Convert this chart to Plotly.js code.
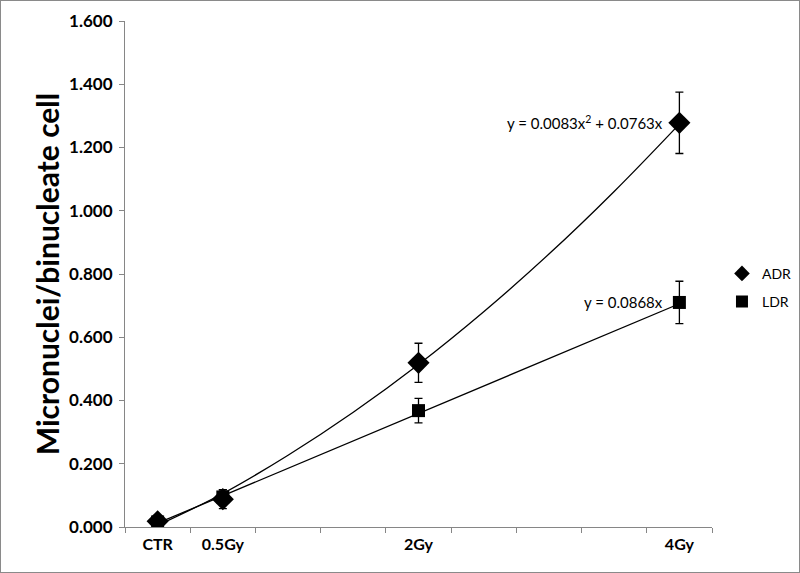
<!DOCTYPE html>
<html>
<head>
<meta charset="utf-8">
<script src="https://cdn.plot.ly/plotly-3.0.1.min.js"></script>
<style>
  html, body { margin: 0; padding: 0; background: #fff; }
  #chart { width: 798px; height: 571px; border: 1px solid #8a8a8a; }
</style>
</head>
<body>
<div id="chart"></div>
<script>
// ---- data ----
const doses = [0, 0.5, 2, 4];
const doseLabels = ["CTR", "0.5Gy", "2Gy", "4Gy"];
const adrValues = [0.018, 0.088, 0.519, 1.278];
const adrErrors = [0.006, 0.030, 0.062, 0.097];
const ldrValues = [0.016, 0.095, 0.368, 0.710];
const ldrErrors = [0.005, 0.022, 0.039, 0.067];
// trendlines
const adrTrendDose = [0, 0.5, 1, 1.5, 2, 2.5, 3, 3.5, 4];
const adrTrendVal = [0.005, 0.106, 0.227, 0.363, 0.514, 0.681, 0.863, 1.061, 1.274];
const ldrTrendDose = [0, 4];
const ldrTrendVal = [0.012, 0.706];
const adrEquation = "y = 0.0083x<sup>2</sup> + 0.0763x";
const ldrEquation = "y = 0.0868x";
const categoryEdges = [-0.25, 0.25, 0.75, 1.25, 1.75, 2.25, 2.75, 3.25, 3.75, 4.25];
const yTicks = [0, 0.2, 0.4, 0.6, 0.8, 1.0, 1.2, 1.4, 1.6];

const axisGray = "#868686";
const font = "Lato, 'Open Sans', sans-serif";

const traces = [
  { x: adrTrendDose, y: adrTrendVal, mode: "lines", line: { color: "#000", width: 1.3, shape: "spline" },
    showlegend: false, hoverinfo: "skip" },
  { x: ldrTrendDose, y: ldrTrendVal, mode: "lines", line: { color: "#000", width: 1.3 },
    showlegend: false, hoverinfo: "skip" },
  { x: doses, y: adrValues, name: "ADR", mode: "markers", legendgroup: "a",
    marker: { symbol: "diamond", size: 17, color: "#000" },
    error_y: { type: "data", array: adrErrors, visible: true, color: "#000", thickness: 1.3, width: 4 } },
  { x: doses, y: ldrValues, name: "LDR", mode: "markers", legendgroup: "b",
    marker: { symbol: "square", size: 13, color: "#000" },
    error_y: { type: "data", array: ldrErrors, visible: true, color: "#000", thickness: 1.3, width: 4 } },
  { x: categoryEdges, y: categoryEdges.map(() => null), xaxis: "x2", mode: "markers",
    showlegend: false, hoverinfo: "skip" }
];

const layout = {
  width: 798, height: 571,
  margin: { l: 124, r: 87, t: 20, b: 45, autoexpand: false },
  paper_bgcolor: "#fff", plot_bgcolor: "#fff",
  font: { family: font, color: "#000" },
  showlegend: true,
  legend: { x: 1.017, xanchor: "left", y: 0.532, yanchor: "top", traceorder: "grouped",
    tracegroupgap: 7, itemsizing: "constant", font: { size: 14, family: font, color: "#000" },
    bgcolor: "rgba(0,0,0,0)" },
  xaxis: {
    range: [-0.25, 4.25], tickvals: doses, ticktext: doseLabels, ticks: "",
    showline: true, linecolor: axisGray, linewidth: 1, showgrid: false, zeroline: false,
    tickfont: { size: 16, family: font, weight: "bold", color: "#000" }, ticklabelstandoff: 3
  },
  xaxis2: {
    range: [-0.25, 4.25], overlaying: "x", anchor: "y", side: "bottom",
    tickvals: categoryEdges, ticks: "outside", ticklen: 5, tickcolor: axisGray,
    showticklabels: false, showline: false, showgrid: false, zeroline: false
  },
  yaxis: {
    range: [0, 1.6], tickvals: yTicks, tickformat: ".3f", ticks: "outside", ticklen: 5,
    tickcolor: axisGray, showline: true, linecolor: axisGray, linewidth: 1,
    showgrid: false, zeroline: false, ticklabelstandoff: 3,
    tickfont: { size: 17, family: font, weight: "bold", color: "#000" },
    title: { text: "Micronuclei/binucleate cell", font: { size: 30, family: font, weight: "bold", color: "#000" }, standoff: 0 }
  },
  annotations: [
    { x: doses[3], y: adrValues[3], xref: "x", yref: "y", text: adrEquation, showarrow: false,
      xanchor: "right", xshift: -14, font: { size: 15, family: font, color: "#000" } },
    { x: doses[3], y: ldrValues[3], xref: "x", yref: "y", text: ldrEquation, showarrow: false,
      xanchor: "right", xshift: -14, font: { size: 15, family: font, color: "#000" } }
  ]
};

Plotly.newPlot("chart", traces, layout, { staticPlot: true });
</script>
</body>
</html>
